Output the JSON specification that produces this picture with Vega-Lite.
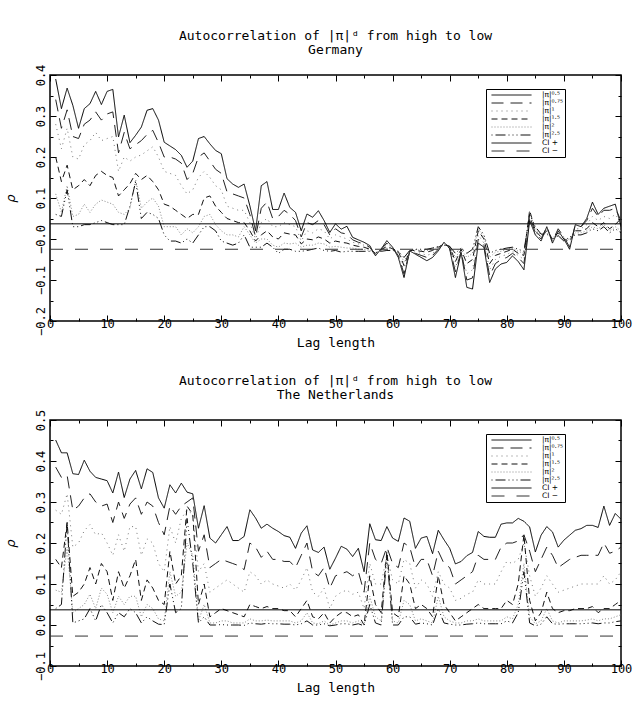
{
"$schema": "https://vega.github.io/schema/vega-lite/v6.json",
"padding": {"left": 3, "top": 29, "right": 8, "bottom": 2},
"spacing": 24,
"config": {
  "font": "DejaVu Sans Mono",
  "view": {"stroke": "black", "strokeWidth": 1.5},
  "title": {"font": "DejaVu Sans Mono", "fontSize": 13, "fontWeight": "normal", "lineHeight": 14, "offset": 7, "anchor": "middle", "color": "black"},
  "axis": {"labelFont": "DejaVu Sans Mono", "labelFontSize": 12, "labelColor": "black", "titleFont": "DejaVu Sans Mono", "titleFontSize": 13, "titleFontWeight": "normal", "titleColor": "black", "domain": false, "grid": false, "tickColor": "black", "tickWidth": 1, "labelOverlap": false, "labelFlush": false},
  "legend": {"orient": "none", "legendX": 436, "legendY": 14, "title": null, "strokeColor": "black", "fillColor": "white", "padding": 2, "clipHeight": 8, "symbolType": "stroke", "symbolSize": 1600, "symbolOffset": 3, "symbolStrokeWidth": 1, "labelFont": "DejaVu Sans", "labelFontSize": 7.5, "labelColor": "black", "rowPadding": 0, "labelOffset": 10, "labelExpr": "datum.label + '\u00a0\u00a0\u00a0'"}
},
"resolve": {"scale": {"color": "independent", "strokeDash": "independent"}, "legend": {"color": "independent", "strokeDash": "independent"}},
"datasets": {
"deci": [{"lag":0,"series":"CI +","rho":0.037},{"lag":100,"series":"CI +","rho":0.037},{"lag":0,"series":"CI −","rho":-0.025},{"lag":100,"series":"CI −","rho":-0.025}],
"nlci": [{"lag":0,"series":"CI +","rho":0.037},{"lag":100,"series":"CI +","rho":0.037},{"lag":0,"series":"CI −","rho":-0.027},{"lag":100,"series":"CI −","rho":-0.027}],
"de": [
{"lag":1,"series":"|π|⁰·⁵","rho":0.39},{"lag":2,"series":"|π|⁰·⁵","rho":0.318},{"lag":3,"series":"|π|⁰·⁵","rho":0.368},{"lag":4,"series":"|π|⁰·⁵","rho":0.326},{"lag":5,"series":"|π|⁰·⁵","rho":0.27},{"lag":6,"series":"|π|⁰·⁵","rho":0.318},{"lag":7,"series":"|π|⁰·⁵","rho":0.33},{"lag":8,"series":"|π|⁰·⁵","rho":0.36},{"lag":9,"series":"|π|⁰·⁵","rho":0.328},{"lag":10,"series":"|π|⁰·⁵","rho":0.36},
{"lag":11,"series":"|π|⁰·⁵","rho":0.365},{"lag":12,"series":"|π|⁰·⁵","rho":0.249},{"lag":13,"series":"|π|⁰·⁵","rho":0.302},{"lag":14,"series":"|π|⁰·⁵","rho":0.235},{"lag":15,"series":"|π|⁰·⁵","rho":0.253},{"lag":16,"series":"|π|⁰·⁵","rho":0.273},{"lag":17,"series":"|π|⁰·⁵","rho":0.314},{"lag":18,"series":"|π|⁰·⁵","rho":0.318},{"lag":19,"series":"|π|⁰·⁵","rho":0.29},{"lag":20,"series":"|π|⁰·⁵","rho":0.236},
{"lag":21,"series":"|π|⁰·⁵","rho":0.227},{"lag":22,"series":"|π|⁰·⁵","rho":0.218},{"lag":23,"series":"|π|⁰·⁵","rho":0.204},{"lag":24,"series":"|π|⁰·⁵","rho":0.175},{"lag":25,"series":"|π|⁰·⁵","rho":0.19},{"lag":26,"series":"|π|⁰·⁵","rho":0.245},{"lag":27,"series":"|π|⁰·⁵","rho":0.25},{"lag":28,"series":"|π|⁰·⁵","rho":0.232},{"lag":29,"series":"|π|⁰·⁵","rho":0.216},{"lag":30,"series":"|π|⁰·⁵","rho":0.208},
{"lag":31,"series":"|π|⁰·⁵","rho":0.147},{"lag":32,"series":"|π|⁰·⁵","rho":0.134},{"lag":33,"series":"|π|⁰·⁵","rho":0.126},{"lag":34,"series":"|π|⁰·⁵","rho":0.134},{"lag":35,"series":"|π|⁰·⁵","rho":0.081},{"lag":36,"series":"|π|⁰·⁵","rho":0.02},{"lag":37,"series":"|π|⁰·⁵","rho":0.13},{"lag":38,"series":"|π|⁰·⁵","rho":0.14},{"lag":39,"series":"|π|⁰·⁵","rho":0.072},{"lag":40,"series":"|π|⁰·⁵","rho":0.072},
{"lag":41,"series":"|π|⁰·⁵","rho":0.112},{"lag":42,"series":"|π|⁰·⁵","rho":0.077},{"lag":43,"series":"|π|⁰·⁵","rho":0.065},{"lag":44,"series":"|π|⁰·⁵","rho":0.02},{"lag":45,"series":"|π|⁰·⁵","rho":0.061},{"lag":46,"series":"|π|⁰·⁵","rho":0.053},{"lag":47,"series":"|π|⁰·⁵","rho":0.069},{"lag":48,"series":"|π|⁰·⁵","rho":0.045},{"lag":49,"series":"|π|⁰·⁵","rho":0.016},{"lag":50,"series":"|π|⁰·⁵","rho":0.037},
{"lag":51,"series":"|π|⁰·⁵","rho":0.024},{"lag":52,"series":"|π|⁰·⁵","rho":0.031},{"lag":53,"series":"|π|⁰·⁵","rho":0.004},{"lag":54,"series":"|π|⁰·⁵","rho":-0.002},{"lag":55,"series":"|π|⁰·⁵","rho":-0.008},{"lag":56,"series":"|π|⁰·⁵","rho":-0.016},{"lag":57,"series":"|π|⁰·⁵","rho":-0.041},{"lag":58,"series":"|π|⁰·⁵","rho":-0.024},{"lag":59,"series":"|π|⁰·⁵","rho":-0.004},{"lag":60,"series":"|π|⁰·⁵","rho":-0.02},
{"lag":61,"series":"|π|⁰·⁵","rho":-0.045},{"lag":62,"series":"|π|⁰·⁵","rho":-0.094},{"lag":63,"series":"|π|⁰·⁵","rho":-0.029},{"lag":64,"series":"|π|⁰·⁵","rho":-0.037},{"lag":65,"series":"|π|⁰·⁵","rho":-0.045},{"lag":66,"series":"|π|⁰·⁵","rho":-0.053},{"lag":67,"series":"|π|⁰·⁵","rho":-0.045},{"lag":68,"series":"|π|⁰·⁵","rho":-0.029},{"lag":69,"series":"|π|⁰·⁵","rho":-0.008},{"lag":70,"series":"|π|⁰·⁵","rho":-0.024},
{"lag":71,"series":"|π|⁰·⁵","rho":-0.094},{"lag":72,"series":"|π|⁰·⁵","rho":-0.033},{"lag":73,"series":"|π|⁰·⁵","rho":-0.118},{"lag":74,"series":"|π|⁰·⁵","rho":-0.122},{"lag":75,"series":"|π|⁰·⁵","rho":-0.01},{"lag":76,"series":"|π|⁰·⁵","rho":-0.02},{"lag":77,"series":"|π|⁰·⁵","rho":-0.106},{"lag":78,"series":"|π|⁰·⁵","rho":-0.073},{"lag":79,"series":"|π|⁰·⁵","rho":-0.061},{"lag":80,"series":"|π|⁰·⁵","rho":-0.057},
{"lag":81,"series":"|π|⁰·⁵","rho":-0.041},{"lag":82,"series":"|π|⁰·⁵","rho":-0.055},{"lag":83,"series":"|π|⁰·⁵","rho":-0.075},{"lag":84,"series":"|π|⁰·⁵","rho":0.045},{"lag":85,"series":"|π|⁰·⁵","rho":0.01},{"lag":86,"series":"|π|⁰·⁵","rho":-0.005},{"lag":87,"series":"|π|⁰·⁵","rho":0.03},{"lag":88,"series":"|π|⁰·⁵","rho":-0.01},{"lag":89,"series":"|π|⁰·⁵","rho":0.02},{"lag":90,"series":"|π|⁰·⁵","rho":0.0},
{"lag":91,"series":"|π|⁰·⁵","rho":-0.025},{"lag":92,"series":"|π|⁰·⁵","rho":0.035},{"lag":93,"series":"|π|⁰·⁵","rho":0.03},{"lag":94,"series":"|π|⁰·⁵","rho":0.05},{"lag":95,"series":"|π|⁰·⁵","rho":0.09},{"lag":96,"series":"|π|⁰·⁵","rho":0.06},{"lag":97,"series":"|π|⁰·⁵","rho":0.075},{"lag":98,"series":"|π|⁰·⁵","rho":0.08},{"lag":99,"series":"|π|⁰·⁵","rho":0.085},{"lag":100,"series":"|π|⁰·⁵","rho":0.03},
{"lag":1,"series":"|π|⁰·⁷⁵","rho":0.34},{"lag":2,"series":"|π|⁰·⁷⁵","rho":0.27},{"lag":3,"series":"|π|⁰·⁷⁵","rho":0.315},{"lag":4,"series":"|π|⁰·⁷⁵","rho":0.25},{"lag":5,"series":"|π|⁰·⁷⁵","rho":0.245},{"lag":6,"series":"|π|⁰·⁷⁵","rho":0.28},{"lag":7,"series":"|π|⁰·⁷⁵","rho":0.29},{"lag":8,"series":"|π|⁰·⁷⁵","rho":0.31},{"lag":9,"series":"|π|⁰·⁷⁵","rho":0.29},{"lag":10,"series":"|π|⁰·⁷⁵","rho":0.305},
{"lag":11,"series":"|π|⁰·⁷⁵","rho":0.31},{"lag":12,"series":"|π|⁰·⁷⁵","rho":0.21},{"lag":13,"series":"|π|⁰·⁷⁵","rho":0.26},{"lag":14,"series":"|π|⁰·⁷⁵","rho":0.22},{"lag":15,"series":"|π|⁰·⁷⁵","rho":0.23},{"lag":16,"series":"|π|⁰·⁷⁵","rho":0.24},{"lag":17,"series":"|π|⁰·⁷⁵","rho":0.255},{"lag":18,"series":"|π|⁰·⁷⁵","rho":0.265},{"lag":19,"series":"|π|⁰·⁷⁵","rho":0.235},{"lag":20,"series":"|π|⁰·⁷⁵","rho":0.2},
{"lag":21,"series":"|π|⁰·⁷⁵","rho":0.2},{"lag":22,"series":"|π|⁰·⁷⁵","rho":0.195},{"lag":23,"series":"|π|⁰·⁷⁵","rho":0.185},{"lag":24,"series":"|π|⁰·⁷⁵","rho":0.145},{"lag":25,"series":"|π|⁰·⁷⁵","rho":0.16},{"lag":26,"series":"|π|⁰·⁷⁵","rho":0.2},{"lag":27,"series":"|π|⁰·⁷⁵","rho":0.21},{"lag":28,"series":"|π|⁰·⁷⁵","rho":0.19},{"lag":29,"series":"|π|⁰·⁷⁵","rho":0.17},{"lag":30,"series":"|π|⁰·⁷⁵","rho":0.16},
{"lag":31,"series":"|π|⁰·⁷⁵","rho":0.115},{"lag":32,"series":"|π|⁰·⁷⁵","rho":0.11},{"lag":33,"series":"|π|⁰·⁷⁵","rho":0.105},{"lag":34,"series":"|π|⁰·⁷⁵","rho":0.1},{"lag":35,"series":"|π|⁰·⁷⁵","rho":0.06},{"lag":36,"series":"|π|⁰·⁷⁵","rho":0.005},{"lag":37,"series":"|π|⁰·⁷⁵","rho":0.075},{"lag":38,"series":"|π|⁰·⁷⁵","rho":0.09},{"lag":39,"series":"|π|⁰·⁷⁵","rho":0.05},{"lag":40,"series":"|π|⁰·⁷⁵","rho":0.055},
{"lag":41,"series":"|π|⁰·⁷⁵","rho":0.07},{"lag":42,"series":"|π|⁰·⁷⁵","rho":0.06},{"lag":43,"series":"|π|⁰·⁷⁵","rho":0.045},{"lag":44,"series":"|π|⁰·⁷⁵","rho":0.005},{"lag":45,"series":"|π|⁰·⁷⁵","rho":0.04},{"lag":46,"series":"|π|⁰·⁷⁵","rho":0.035},{"lag":47,"series":"|π|⁰·⁷⁵","rho":0.045},{"lag":48,"series":"|π|⁰·⁷⁵","rho":0.035},{"lag":49,"series":"|π|⁰·⁷⁵","rho":0.01},{"lag":50,"series":"|π|⁰·⁷⁵","rho":0.025},
{"lag":51,"series":"|π|⁰·⁷⁵","rho":0.015},{"lag":52,"series":"|π|⁰·⁷⁵","rho":0.012},{"lag":53,"series":"|π|⁰·⁷⁵","rho":-0.002},{"lag":54,"series":"|π|⁰·⁷⁵","rho":-0.008},{"lag":55,"series":"|π|⁰·⁷⁵","rho":-0.012},{"lag":56,"series":"|π|⁰·⁷⁵","rho":-0.02},{"lag":57,"series":"|π|⁰·⁷⁵","rho":-0.04},{"lag":58,"series":"|π|⁰·⁷⁵","rho":-0.025},{"lag":59,"series":"|π|⁰·⁷⁵","rho":-0.01},{"lag":60,"series":"|π|⁰·⁷⁵","rho":-0.022},
{"lag":61,"series":"|π|⁰·⁷⁵","rho":-0.04},{"lag":62,"series":"|π|⁰·⁷⁵","rho":-0.085},{"lag":63,"series":"|π|⁰·⁷⁵","rho":-0.03},{"lag":64,"series":"|π|⁰·⁷⁵","rho":-0.035},{"lag":65,"series":"|π|⁰·⁷⁵","rho":-0.04},{"lag":66,"series":"|π|⁰·⁷⁵","rho":-0.045},{"lag":67,"series":"|π|⁰·⁷⁵","rho":-0.04},{"lag":68,"series":"|π|⁰·⁷⁵","rho":-0.025},{"lag":69,"series":"|π|⁰·⁷⁵","rho":-0.01},{"lag":70,"series":"|π|⁰·⁷⁵","rho":-0.022},
{"lag":71,"series":"|π|⁰·⁷⁵","rho":-0.08},{"lag":72,"series":"|π|⁰·⁷⁵","rho":-0.03},{"lag":73,"series":"|π|⁰·⁷⁵","rho":-0.1},{"lag":74,"series":"|π|⁰·⁷⁵","rho":-0.095},{"lag":75,"series":"|π|⁰·⁷⁵","rho":0.0},{"lag":76,"series":"|π|⁰·⁷⁵","rho":-0.015},{"lag":77,"series":"|π|⁰·⁷⁵","rho":-0.09},{"lag":78,"series":"|π|⁰·⁷⁵","rho":-0.06},{"lag":79,"series":"|π|⁰·⁷⁵","rho":-0.05},{"lag":80,"series":"|π|⁰·⁷⁵","rho":-0.045},
{"lag":81,"series":"|π|⁰·⁷⁵","rho":-0.035},{"lag":82,"series":"|π|⁰·⁷⁵","rho":-0.045},{"lag":83,"series":"|π|⁰·⁷⁵","rho":-0.06},{"lag":84,"series":"|π|⁰·⁷⁵","rho":0.055},{"lag":85,"series":"|π|⁰·⁷⁵","rho":0.015},{"lag":86,"series":"|π|⁰·⁷⁵","rho":0.0},{"lag":87,"series":"|π|⁰·⁷⁵","rho":0.03},{"lag":88,"series":"|π|⁰·⁷⁵","rho":-0.005},{"lag":89,"series":"|π|⁰·⁷⁵","rho":0.025},{"lag":90,"series":"|π|⁰·⁷⁵","rho":0.005},
{"lag":91,"series":"|π|⁰·⁷⁵","rho":-0.02},{"lag":92,"series":"|π|⁰·⁷⁵","rho":0.035},{"lag":93,"series":"|π|⁰·⁷⁵","rho":0.03},{"lag":94,"series":"|π|⁰·⁷⁵","rho":0.045},{"lag":95,"series":"|π|⁰·⁷⁵","rho":0.075},{"lag":96,"series":"|π|⁰·⁷⁵","rho":0.055},{"lag":97,"series":"|π|⁰·⁷⁵","rho":0.07},{"lag":98,"series":"|π|⁰·⁷⁵","rho":0.07},{"lag":99,"series":"|π|⁰·⁷⁵","rho":0.075},{"lag":100,"series":"|π|⁰·⁷⁵","rho":0.045},
{"lag":1,"series":"|π|¹","rho":0.28},{"lag":2,"series":"|π|¹","rho":0.22},{"lag":3,"series":"|π|¹","rho":0.27},{"lag":4,"series":"|π|¹","rho":0.2},{"lag":5,"series":"|π|¹","rho":0.195},{"lag":6,"series":"|π|¹","rho":0.23},{"lag":7,"series":"|π|¹","rho":0.24},{"lag":8,"series":"|π|¹","rho":0.26},{"lag":9,"series":"|π|¹","rho":0.24},{"lag":10,"series":"|π|¹","rho":0.245},
{"lag":11,"series":"|π|¹","rho":0.25},{"lag":12,"series":"|π|¹","rho":0.165},{"lag":13,"series":"|π|¹","rho":0.2},{"lag":14,"series":"|π|¹","rho":0.19},{"lag":15,"series":"|π|¹","rho":0.2},{"lag":16,"series":"|π|¹","rho":0.205},{"lag":17,"series":"|π|¹","rho":0.215},{"lag":18,"series":"|π|¹","rho":0.225},{"lag":19,"series":"|π|¹","rho":0.2},{"lag":20,"series":"|π|¹","rho":0.165},
{"lag":21,"series":"|π|¹","rho":0.16},{"lag":22,"series":"|π|¹","rho":0.155},{"lag":23,"series":"|π|¹","rho":0.13},{"lag":24,"series":"|π|¹","rho":0.11},{"lag":25,"series":"|π|¹","rho":0.12},{"lag":26,"series":"|π|¹","rho":0.15},{"lag":27,"series":"|π|¹","rho":0.165},{"lag":28,"series":"|π|¹","rho":0.15},{"lag":29,"series":"|π|¹","rho":0.13},{"lag":30,"series":"|π|¹","rho":0.12},
{"lag":31,"series":"|π|¹","rho":0.08},{"lag":32,"series":"|π|¹","rho":0.075},{"lag":33,"series":"|π|¹","rho":0.07},{"lag":34,"series":"|π|¹","rho":0.07},{"lag":35,"series":"|π|¹","rho":0.04},{"lag":36,"series":"|π|¹","rho":0.0},{"lag":37,"series":"|π|¹","rho":0.04},{"lag":38,"series":"|π|¹","rho":0.05},{"lag":39,"series":"|π|¹","rho":0.03},{"lag":40,"series":"|π|¹","rho":0.03},
{"lag":41,"series":"|π|¹","rho":0.04},{"lag":42,"series":"|π|¹","rho":0.035},{"lag":43,"series":"|π|¹","rho":0.03},{"lag":44,"series":"|π|¹","rho":-0.005},{"lag":45,"series":"|π|¹","rho":0.02},{"lag":46,"series":"|π|¹","rho":0.015},{"lag":47,"series":"|π|¹","rho":0.025},{"lag":48,"series":"|π|¹","rho":0.02},{"lag":49,"series":"|π|¹","rho":0.0},{"lag":50,"series":"|π|¹","rho":0.01},
{"lag":51,"series":"|π|¹","rho":0.005},{"lag":52,"series":"|π|¹","rho":0.0},{"lag":53,"series":"|π|¹","rho":-0.008},{"lag":54,"series":"|π|¹","rho":-0.012},{"lag":55,"series":"|π|¹","rho":-0.015},{"lag":56,"series":"|π|¹","rho":-0.022},{"lag":57,"series":"|π|¹","rho":-0.038},{"lag":58,"series":"|π|¹","rho":-0.025},{"lag":59,"series":"|π|¹","rho":-0.012},{"lag":60,"series":"|π|¹","rho":-0.022},
{"lag":61,"series":"|π|¹","rho":-0.035},{"lag":62,"series":"|π|¹","rho":-0.078},{"lag":63,"series":"|π|¹","rho":-0.03},{"lag":64,"series":"|π|¹","rho":-0.032},{"lag":65,"series":"|π|¹","rho":-0.035},{"lag":66,"series":"|π|¹","rho":-0.04},{"lag":67,"series":"|π|¹","rho":-0.035},{"lag":68,"series":"|π|¹","rho":-0.022},{"lag":69,"series":"|π|¹","rho":-0.012},{"lag":70,"series":"|π|¹","rho":-0.02},
{"lag":71,"series":"|π|¹","rho":-0.07},{"lag":72,"series":"|π|¹","rho":-0.028},{"lag":73,"series":"|π|¹","rho":-0.085},{"lag":74,"series":"|π|¹","rho":-0.075},{"lag":75,"series":"|π|¹","rho":0.01},{"lag":76,"series":"|π|¹","rho":-0.01},{"lag":77,"series":"|π|¹","rho":-0.075},{"lag":78,"series":"|π|¹","rho":-0.05},{"lag":79,"series":"|π|¹","rho":-0.042},{"lag":80,"series":"|π|¹","rho":-0.038},
{"lag":81,"series":"|π|¹","rho":-0.03},{"lag":82,"series":"|π|¹","rho":-0.04},{"lag":83,"series":"|π|¹","rho":-0.05},{"lag":84,"series":"|π|¹","rho":0.06},{"lag":85,"series":"|π|¹","rho":0.015},{"lag":86,"series":"|π|¹","rho":0.005},{"lag":87,"series":"|π|¹","rho":0.025},{"lag":88,"series":"|π|¹","rho":0.0},{"lag":89,"series":"|π|¹","rho":0.02},{"lag":90,"series":"|π|¹","rho":0.005},
{"lag":91,"series":"|π|¹","rho":-0.015},{"lag":92,"series":"|π|¹","rho":0.025},{"lag":93,"series":"|π|¹","rho":0.025},{"lag":94,"series":"|π|¹","rho":0.035},{"lag":95,"series":"|π|¹","rho":0.055},{"lag":96,"series":"|π|¹","rho":0.045},{"lag":97,"series":"|π|¹","rho":0.055},{"lag":98,"series":"|π|¹","rho":0.05},{"lag":99,"series":"|π|¹","rho":0.06},{"lag":100,"series":"|π|¹","rho":0.04},
{"lag":1,"series":"|π|¹·⁵","rho":0.2},{"lag":2,"series":"|π|¹·⁵","rho":0.14},{"lag":3,"series":"|π|¹·⁵","rho":0.18},{"lag":4,"series":"|π|¹·⁵","rho":0.12},{"lag":5,"series":"|π|¹·⁵","rho":0.13},{"lag":6,"series":"|π|¹·⁵","rho":0.145},{"lag":7,"series":"|π|¹·⁵","rho":0.13},{"lag":8,"series":"|π|¹·⁵","rho":0.155},{"lag":9,"series":"|π|¹·⁵","rho":0.165},{"lag":10,"series":"|π|¹·⁵","rho":0.155},
{"lag":11,"series":"|π|¹·⁵","rho":0.15},{"lag":12,"series":"|π|¹·⁵","rho":0.105},{"lag":13,"series":"|π|¹·⁵","rho":0.12},{"lag":14,"series":"|π|¹·⁵","rho":0.135},{"lag":15,"series":"|π|¹·⁵","rho":0.16},{"lag":16,"series":"|π|¹·⁵","rho":0.145},{"lag":17,"series":"|π|¹·⁵","rho":0.155},{"lag":18,"series":"|π|¹·⁵","rho":0.14},{"lag":19,"series":"|π|¹·⁵","rho":0.12},{"lag":20,"series":"|π|¹·⁵","rho":0.085},
{"lag":21,"series":"|π|¹·⁵","rho":0.08},{"lag":22,"series":"|π|¹·⁵","rho":0.07},{"lag":23,"series":"|π|¹·⁵","rho":0.06},{"lag":24,"series":"|π|¹·⁵","rho":0.05},{"lag":25,"series":"|π|¹·⁵","rho":0.06},{"lag":26,"series":"|π|¹·⁵","rho":0.06},{"lag":27,"series":"|π|¹·⁵","rho":0.1},{"lag":28,"series":"|π|¹·⁵","rho":0.105},{"lag":29,"series":"|π|¹·⁵","rho":0.08},{"lag":30,"series":"|π|¹·⁵","rho":0.065},
{"lag":31,"series":"|π|¹·⁵","rho":0.05},{"lag":32,"series":"|π|¹·⁵","rho":0.045},{"lag":33,"series":"|π|¹·⁵","rho":0.04},{"lag":34,"series":"|π|¹·⁵","rho":0.04},{"lag":35,"series":"|π|¹·⁵","rho":0.02},{"lag":36,"series":"|π|¹·⁵","rho":-0.005},{"lag":37,"series":"|π|¹·⁵","rho":0.01},{"lag":38,"series":"|π|¹·⁵","rho":0.02},{"lag":39,"series":"|π|¹·⁵","rho":0.005},{"lag":40,"series":"|π|¹·⁵","rho":0.0},
{"lag":41,"series":"|π|¹·⁵","rho":0.015},{"lag":42,"series":"|π|¹·⁵","rho":0.012},{"lag":43,"series":"|π|¹·⁵","rho":0.01},{"lag":44,"series":"|π|¹·⁵","rho":-0.012},{"lag":45,"series":"|π|¹·⁵","rho":0.0},{"lag":46,"series":"|π|¹·⁵","rho":-0.002},{"lag":47,"series":"|π|¹·⁵","rho":0.005},{"lag":48,"series":"|π|¹·⁵","rho":0.0},{"lag":49,"series":"|π|¹·⁵","rho":-0.01},{"lag":50,"series":"|π|¹·⁵","rho":-0.005},
{"lag":51,"series":"|π|¹·⁵","rho":-0.008},{"lag":52,"series":"|π|¹·⁵","rho":-0.01},{"lag":53,"series":"|π|¹·⁵","rho":-0.015},{"lag":54,"series":"|π|¹·⁵","rho":-0.018},{"lag":55,"series":"|π|¹·⁵","rho":-0.02},{"lag":56,"series":"|π|¹·⁵","rho":-0.025},{"lag":57,"series":"|π|¹·⁵","rho":-0.035},{"lag":58,"series":"|π|¹·⁵","rho":-0.026},{"lag":59,"series":"|π|¹·⁵","rho":-0.018},{"lag":60,"series":"|π|¹·⁵","rho":-0.024},
{"lag":61,"series":"|π|¹·⁵","rho":-0.03},{"lag":62,"series":"|π|¹·⁵","rho":-0.065},{"lag":63,"series":"|π|¹·⁵","rho":-0.028},{"lag":64,"series":"|π|¹·⁵","rho":-0.028},{"lag":65,"series":"|π|¹·⁵","rho":-0.03},{"lag":66,"series":"|π|¹·⁵","rho":-0.032},{"lag":67,"series":"|π|¹·⁵","rho":-0.028},{"lag":68,"series":"|π|¹·⁵","rho":-0.02},{"lag":69,"series":"|π|¹·⁵","rho":-0.012},{"lag":70,"series":"|π|¹·⁵","rho":-0.018},
{"lag":71,"series":"|π|¹·⁵","rho":-0.055},{"lag":72,"series":"|π|¹·⁵","rho":-0.025},{"lag":73,"series":"|π|¹·⁵","rho":-0.06},{"lag":74,"series":"|π|¹·⁵","rho":-0.05},{"lag":75,"series":"|π|¹·⁵","rho":0.02},{"lag":76,"series":"|π|¹·⁵","rho":0.0},{"lag":77,"series":"|π|¹·⁵","rho":-0.06},{"lag":78,"series":"|π|¹·⁵","rho":-0.04},{"lag":79,"series":"|π|¹·⁵","rho":-0.035},{"lag":80,"series":"|π|¹·⁵","rho":-0.03},
{"lag":81,"series":"|π|¹·⁵","rho":-0.025},{"lag":82,"series":"|π|¹·⁵","rho":-0.035},{"lag":83,"series":"|π|¹·⁵","rho":-0.04},{"lag":84,"series":"|π|¹·⁵","rho":0.07},{"lag":85,"series":"|π|¹·⁵","rho":0.02},{"lag":86,"series":"|π|¹·⁵","rho":0.005},{"lag":87,"series":"|π|¹·⁵","rho":0.02},{"lag":88,"series":"|π|¹·⁵","rho":0.0},{"lag":89,"series":"|π|¹·⁵","rho":0.015},{"lag":90,"series":"|π|¹·⁵","rho":0.0},
{"lag":91,"series":"|π|¹·⁵","rho":-0.005},{"lag":92,"series":"|π|¹·⁵","rho":0.02},{"lag":93,"series":"|π|¹·⁵","rho":0.02},{"lag":94,"series":"|π|¹·⁵","rho":0.025},{"lag":95,"series":"|π|¹·⁵","rho":0.04},{"lag":96,"series":"|π|¹·⁵","rho":0.03},{"lag":97,"series":"|π|¹·⁵","rho":0.04},{"lag":98,"series":"|π|¹·⁵","rho":0.025},{"lag":99,"series":"|π|¹·⁵","rho":0.035},{"lag":100,"series":"|π|¹·⁵","rho":0.05},
{"lag":1,"series":"|π|²","rho":0.11},{"lag":2,"series":"|π|²","rho":0.065},{"lag":3,"series":"|π|²","rho":0.13},{"lag":4,"series":"|π|²","rho":0.055},{"lag":5,"series":"|π|²","rho":0.06},{"lag":6,"series":"|π|²","rho":0.085},{"lag":7,"series":"|π|²","rho":0.065},{"lag":8,"series":"|π|²","rho":0.085},{"lag":9,"series":"|π|²","rho":0.095},{"lag":10,"series":"|π|²","rho":0.09},
{"lag":11,"series":"|π|²","rho":0.085},{"lag":12,"series":"|π|²","rho":0.065},{"lag":13,"series":"|π|²","rho":0.06},{"lag":14,"series":"|π|²","rho":0.075},{"lag":15,"series":"|π|²","rho":0.145},{"lag":16,"series":"|π|²","rho":0.075},{"lag":17,"series":"|π|²","rho":0.09},{"lag":18,"series":"|π|²","rho":0.1},{"lag":19,"series":"|π|²","rho":0.08},{"lag":20,"series":"|π|²","rho":0.03},
{"lag":21,"series":"|π|²","rho":0.03},{"lag":22,"series":"|π|²","rho":0.03},{"lag":23,"series":"|π|²","rho":0.01},{"lag":24,"series":"|π|²","rho":0.025},{"lag":25,"series":"|π|²","rho":0.015},{"lag":26,"series":"|π|²","rho":0.03},{"lag":27,"series":"|π|²","rho":0.055},{"lag":28,"series":"|π|²","rho":0.06},{"lag":29,"series":"|π|²","rho":0.035},{"lag":30,"series":"|π|²","rho":0.02},
{"lag":31,"series":"|π|²","rho":0.01},{"lag":32,"series":"|π|²","rho":0.01},{"lag":33,"series":"|π|²","rho":0.005},{"lag":34,"series":"|π|²","rho":0.03},{"lag":35,"series":"|π|²","rho":0.01},{"lag":36,"series":"|π|²","rho":-0.01},{"lag":37,"series":"|π|²","rho":0.0},{"lag":38,"series":"|π|²","rho":0.0},{"lag":39,"series":"|π|²","rho":-0.015},{"lag":40,"series":"|π|²","rho":-0.02},
{"lag":41,"series":"|π|²","rho":-0.01},{"lag":42,"series":"|π|²","rho":-0.012},{"lag":43,"series":"|π|²","rho":-0.01},{"lag":44,"series":"|π|²","rho":-0.02},{"lag":45,"series":"|π|²","rho":-0.015},{"lag":46,"series":"|π|²","rho":-0.015},{"lag":47,"series":"|π|²","rho":-0.01},{"lag":48,"series":"|π|²","rho":-0.012},{"lag":49,"series":"|π|²","rho":-0.02},{"lag":50,"series":"|π|²","rho":-0.018},
{"lag":51,"series":"|π|²","rho":-0.02},{"lag":52,"series":"|π|²","rho":-0.022},{"lag":53,"series":"|π|²","rho":-0.022},{"lag":54,"series":"|π|²","rho":-0.025},{"lag":55,"series":"|π|²","rho":-0.025},{"lag":56,"series":"|π|²","rho":-0.028},{"lag":57,"series":"|π|²","rho":-0.035},{"lag":58,"series":"|π|²","rho":-0.028},{"lag":59,"series":"|π|²","rho":-0.022},{"lag":60,"series":"|π|²","rho":-0.026},
{"lag":61,"series":"|π|²","rho":-0.03},{"lag":62,"series":"|π|²","rho":-0.055},{"lag":63,"series":"|π|²","rho":-0.028},{"lag":64,"series":"|π|²","rho":-0.026},{"lag":65,"series":"|π|²","rho":-0.028},{"lag":66,"series":"|π|²","rho":-0.028},{"lag":67,"series":"|π|²","rho":-0.025},{"lag":68,"series":"|π|²","rho":-0.02},{"lag":69,"series":"|π|²","rho":-0.015},{"lag":70,"series":"|π|²","rho":-0.02},
{"lag":71,"series":"|π|²","rho":-0.045},{"lag":72,"series":"|π|²","rho":-0.025},{"lag":73,"series":"|π|²","rho":-0.045},{"lag":74,"series":"|π|²","rho":-0.035},{"lag":75,"series":"|π|²","rho":0.025},{"lag":76,"series":"|π|²","rho":0.005},{"lag":77,"series":"|π|²","rho":-0.045},{"lag":78,"series":"|π|²","rho":-0.032},{"lag":79,"series":"|π|²","rho":-0.03},{"lag":80,"series":"|π|²","rho":-0.025},
{"lag":81,"series":"|π|²","rho":-0.022},{"lag":82,"series":"|π|²","rho":-0.03},{"lag":83,"series":"|π|²","rho":-0.035},{"lag":84,"series":"|π|²","rho":0.065},{"lag":85,"series":"|π|²","rho":0.025},{"lag":86,"series":"|π|²","rho":0.01},{"lag":87,"series":"|π|²","rho":0.015},{"lag":88,"series":"|π|²","rho":0.0},{"lag":89,"series":"|π|²","rho":0.01},{"lag":90,"series":"|π|²","rho":-0.002},
{"lag":91,"series":"|π|²","rho":0.0},{"lag":92,"series":"|π|²","rho":0.015},{"lag":93,"series":"|π|²","rho":0.015},{"lag":94,"series":"|π|²","rho":0.02},{"lag":95,"series":"|π|²","rho":0.03},{"lag":96,"series":"|π|²","rho":0.025},{"lag":97,"series":"|π|²","rho":0.035},{"lag":98,"series":"|π|²","rho":0.02},{"lag":99,"series":"|π|²","rho":0.03},{"lag":100,"series":"|π|²","rho":0.02},
{"lag":1,"series":"|π|²·⁵","rho":0.06},{"lag":2,"series":"|π|²·⁵","rho":0.055},{"lag":3,"series":"|π|²·⁵","rho":0.12},{"lag":4,"series":"|π|²·⁵","rho":0.03},{"lag":5,"series":"|π|²·⁵","rho":0.03},{"lag":6,"series":"|π|²·⁵","rho":0.035},{"lag":7,"series":"|π|²·⁵","rho":0.035},{"lag":8,"series":"|π|²·⁵","rho":0.04},{"lag":9,"series":"|π|²·⁵","rho":0.045},{"lag":10,"series":"|π|²·⁵","rho":0.04},
{"lag":11,"series":"|π|²·⁵","rho":0.035},{"lag":12,"series":"|π|²·⁵","rho":0.035},{"lag":13,"series":"|π|²·⁵","rho":0.035},{"lag":14,"series":"|π|²·⁵","rho":0.08},{"lag":15,"series":"|π|²·⁵","rho":0.14},{"lag":16,"series":"|π|²·⁵","rho":0.05},{"lag":17,"series":"|π|²·⁵","rho":0.065},{"lag":18,"series":"|π|²·⁵","rho":0.06},{"lag":19,"series":"|π|²·⁵","rho":0.05},{"lag":20,"series":"|π|²·⁵","rho":0.01},
{"lag":21,"series":"|π|²·⁵","rho":-0.005},{"lag":22,"series":"|π|²·⁵","rho":-0.005},{"lag":23,"series":"|π|²·⁵","rho":-0.01},{"lag":24,"series":"|π|²·⁵","rho":0.0},{"lag":25,"series":"|π|²·⁵","rho":-0.01},{"lag":26,"series":"|π|²·⁵","rho":0.01},{"lag":27,"series":"|π|²·⁵","rho":0.03},{"lag":28,"series":"|π|²·⁵","rho":0.03},{"lag":29,"series":"|π|²·⁵","rho":0.02},{"lag":30,"series":"|π|²·⁵","rho":-0.005},
{"lag":31,"series":"|π|²·⁵","rho":-0.01},{"lag":32,"series":"|π|²·⁵","rho":-0.015},{"lag":33,"series":"|π|²·⁵","rho":-0.01},{"lag":34,"series":"|π|²·⁵","rho":0.01},{"lag":35,"series":"|π|²·⁵","rho":-0.02},{"lag":36,"series":"|π|²·⁵","rho":-0.02},{"lag":37,"series":"|π|²·⁵","rho":-0.02},{"lag":38,"series":"|π|²·⁵","rho":-0.01},{"lag":39,"series":"|π|²·⁵","rho":-0.02},{"lag":40,"series":"|π|²·⁵","rho":-0.035},
{"lag":41,"series":"|π|²·⁵","rho":-0.025},{"lag":42,"series":"|π|²·⁵","rho":-0.025},{"lag":43,"series":"|π|²·⁵","rho":-0.03},{"lag":44,"series":"|π|²·⁵","rho":-0.03},{"lag":45,"series":"|π|²·⁵","rho":-0.028},{"lag":46,"series":"|π|²·⁵","rho":-0.025},{"lag":47,"series":"|π|²·⁵","rho":-0.022},{"lag":48,"series":"|π|²·⁵","rho":-0.028},{"lag":49,"series":"|π|²·⁵","rho":-0.03},{"lag":50,"series":"|π|²·⁵","rho":-0.028},
{"lag":51,"series":"|π|²·⁵","rho":-0.032},{"lag":52,"series":"|π|²·⁵","rho":-0.03},{"lag":53,"series":"|π|²·⁵","rho":-0.03},{"lag":54,"series":"|π|²·⁵","rho":-0.03},{"lag":55,"series":"|π|²·⁵","rho":-0.03},{"lag":56,"series":"|π|²·⁵","rho":-0.03},{"lag":57,"series":"|π|²·⁵","rho":-0.033},{"lag":58,"series":"|π|²·⁵","rho":-0.03},{"lag":59,"series":"|π|²·⁵","rho":-0.028},{"lag":60,"series":"|π|²·⁵","rho":-0.028},
{"lag":61,"series":"|π|²·⁵","rho":-0.03},{"lag":62,"series":"|π|²·⁵","rho":-0.045},{"lag":63,"series":"|π|²·⁵","rho":-0.028},{"lag":64,"series":"|π|²·⁵","rho":-0.025},{"lag":65,"series":"|π|²·⁵","rho":-0.025},{"lag":66,"series":"|π|²·⁵","rho":-0.025},{"lag":67,"series":"|π|²·⁵","rho":-0.022},{"lag":68,"series":"|π|²·⁵","rho":-0.018},{"lag":69,"series":"|π|²·⁵","rho":-0.015},{"lag":70,"series":"|π|²·⁵","rho":-0.018},
{"lag":71,"series":"|π|²·⁵","rho":-0.035},{"lag":72,"series":"|π|²·⁵","rho":-0.022},{"lag":73,"series":"|π|²·⁵","rho":-0.035},{"lag":74,"series":"|π|²·⁵","rho":-0.025},{"lag":75,"series":"|π|²·⁵","rho":0.03},{"lag":76,"series":"|π|²·⁵","rho":0.01},{"lag":77,"series":"|π|²·⁵","rho":-0.035},{"lag":78,"series":"|π|²·⁵","rho":-0.028},{"lag":79,"series":"|π|²·⁵","rho":-0.025},{"lag":80,"series":"|π|²·⁵","rho":-0.022},
{"lag":81,"series":"|π|²·⁵","rho":-0.02},{"lag":82,"series":"|π|²·⁵","rho":-0.025},{"lag":83,"series":"|π|²·⁵","rho":-0.03},{"lag":84,"series":"|π|²·⁵","rho":0.06},{"lag":85,"series":"|π|²·⁵","rho":0.03},{"lag":86,"series":"|π|²·⁵","rho":0.012},{"lag":87,"series":"|π|²·⁵","rho":0.012},{"lag":88,"series":"|π|²·⁵","rho":0.0},{"lag":89,"series":"|π|²·⁵","rho":0.008},{"lag":90,"series":"|π|²·⁵","rho":-0.005},
{"lag":91,"series":"|π|²·⁵","rho":0.005},{"lag":92,"series":"|π|²·⁵","rho":0.01},{"lag":93,"series":"|π|²·⁵","rho":0.01},{"lag":94,"series":"|π|²·⁵","rho":0.015},{"lag":95,"series":"|π|²·⁵","rho":0.025},{"lag":96,"series":"|π|²·⁵","rho":0.02},{"lag":97,"series":"|π|²·⁵","rho":0.03},{"lag":98,"series":"|π|²·⁵","rho":0.015},{"lag":99,"series":"|π|²·⁵","rho":0.025},{"lag":100,"series":"|π|²·⁵","rho":0.015}
],
"nl": [
{"lag":1,"series":"|π|⁰·⁵","rho":0.451},{"lag":2,"series":"|π|⁰·⁵","rho":0.42},{"lag":3,"series":"|π|⁰·⁵","rho":0.42},{"lag":4,"series":"|π|⁰·⁵","rho":0.369},{"lag":5,"series":"|π|⁰·⁵","rho":0.367},{"lag":6,"series":"|π|⁰·⁵","rho":0.402},{"lag":7,"series":"|π|⁰·⁵","rho":0.375},{"lag":8,"series":"|π|⁰·⁵","rho":0.36},{"lag":9,"series":"|π|⁰·⁵","rho":0.356},{"lag":10,"series":"|π|⁰·⁵","rho":0.352},
{"lag":11,"series":"|π|⁰·⁵","rho":0.322},{"lag":12,"series":"|π|⁰·⁵","rho":0.373},{"lag":13,"series":"|π|⁰·⁵","rho":0.311},{"lag":14,"series":"|π|⁰·⁵","rho":0.356},{"lag":15,"series":"|π|⁰·⁵","rho":0.377},{"lag":16,"series":"|π|⁰·⁵","rho":0.332},{"lag":17,"series":"|π|⁰·⁵","rho":0.381},{"lag":18,"series":"|π|⁰·⁵","rho":0.372},{"lag":19,"series":"|π|⁰·⁵","rho":0.31},{"lag":20,"series":"|π|⁰·⁵","rho":0.285},
{"lag":21,"series":"|π|⁰·⁵","rho":0.342},{"lag":22,"series":"|π|⁰·⁵","rho":0.322},{"lag":23,"series":"|π|⁰·⁵","rho":0.346},{"lag":24,"series":"|π|⁰·⁵","rho":0.324},{"lag":25,"series":"|π|⁰·⁵","rho":0.32},{"lag":26,"series":"|π|⁰·⁵","rho":0.236},{"lag":27,"series":"|π|⁰·⁵","rho":0.291},{"lag":28,"series":"|π|⁰·⁵","rho":0.212},{"lag":29,"series":"|π|⁰·⁵","rho":0.2},{"lag":30,"series":"|π|⁰·⁵","rho":0.22},
{"lag":31,"series":"|π|⁰·⁵","rho":0.24},{"lag":32,"series":"|π|⁰·⁵","rho":0.206},{"lag":33,"series":"|π|⁰·⁵","rho":0.206},{"lag":34,"series":"|π|⁰·⁵","rho":0.216},{"lag":35,"series":"|π|⁰·⁵","rho":0.281},{"lag":36,"series":"|π|⁰·⁵","rho":0.261},{"lag":37,"series":"|π|⁰·⁵","rho":0.236},{"lag":38,"series":"|π|⁰·⁵","rho":0.246},{"lag":39,"series":"|π|⁰·⁵","rho":0.236},{"lag":40,"series":"|π|⁰·⁵","rho":0.228},
{"lag":41,"series":"|π|⁰·⁵","rho":0.218},{"lag":42,"series":"|π|⁰·⁵","rho":0.214},{"lag":43,"series":"|π|⁰·⁵","rho":0.187},{"lag":44,"series":"|π|⁰·⁵","rho":0.224},{"lag":45,"series":"|π|⁰·⁵","rho":0.242},{"lag":46,"series":"|π|⁰·⁵","rho":0.183},{"lag":47,"series":"|π|⁰·⁵","rho":0.177},{"lag":48,"series":"|π|⁰·⁵","rho":0.19},{"lag":49,"series":"|π|⁰·⁵","rho":0.136},{"lag":50,"series":"|π|⁰·⁵","rho":0.163},
{"lag":51,"series":"|π|⁰·⁵","rho":0.192},{"lag":52,"series":"|π|⁰·⁵","rho":0.185},{"lag":53,"series":"|π|⁰·⁵","rho":0.167},{"lag":54,"series":"|π|⁰·⁵","rho":0.187},{"lag":55,"series":"|π|⁰·⁵","rho":0.13},{"lag":56,"series":"|π|⁰·⁵","rho":0.247},{"lag":57,"series":"|π|⁰·⁵","rho":0.208},{"lag":58,"series":"|π|⁰·⁵","rho":0.206},{"lag":59,"series":"|π|⁰·⁵","rho":0.24},{"lag":60,"series":"|π|⁰·⁵","rho":0.212},
{"lag":61,"series":"|π|⁰·⁵","rho":0.204},{"lag":62,"series":"|π|⁰·⁵","rho":0.261},{"lag":63,"series":"|π|⁰·⁵","rho":0.253},{"lag":64,"series":"|π|⁰·⁵","rho":0.187},{"lag":65,"series":"|π|⁰·⁵","rho":0.212},{"lag":66,"series":"|π|⁰·⁵","rho":0.216},{"lag":67,"series":"|π|⁰·⁵","rho":0.174},{"lag":68,"series":"|π|⁰·⁵","rho":0.231},{"lag":69,"series":"|π|⁰·⁵","rho":0.208},{"lag":70,"series":"|π|⁰·⁵","rho":0.187},
{"lag":71,"series":"|π|⁰·⁵","rho":0.149},{"lag":72,"series":"|π|⁰·⁵","rho":0.155},{"lag":73,"series":"|π|⁰·⁵","rho":0.169},{"lag":74,"series":"|π|⁰·⁵","rho":0.177},{"lag":75,"series":"|π|⁰·⁵","rho":0.228},{"lag":76,"series":"|π|⁰·⁵","rho":0.216},{"lag":77,"series":"|π|⁰·⁵","rho":0.214},{"lag":78,"series":"|π|⁰·⁵","rho":0.214},{"lag":79,"series":"|π|⁰·⁵","rho":0.246},{"lag":80,"series":"|π|⁰·⁵","rho":0.249},
{"lag":81,"series":"|π|⁰·⁵","rho":0.249},{"lag":82,"series":"|π|⁰·⁵","rho":0.26},{"lag":83,"series":"|π|⁰·⁵","rho":0.253},{"lag":84,"series":"|π|⁰·⁵","rho":0.239},{"lag":85,"series":"|π|⁰·⁵","rho":0.178},{"lag":86,"series":"|π|⁰·⁵","rho":0.219},{"lag":87,"series":"|π|⁰·⁵","rho":0.24},{"lag":88,"series":"|π|⁰·⁵","rho":0.227},{"lag":89,"series":"|π|⁰·⁵","rho":0.19},{"lag":90,"series":"|π|⁰·⁵","rho":0.207},
{"lag":91,"series":"|π|⁰·⁵","rho":0.219},{"lag":92,"series":"|π|⁰·⁵","rho":0.231},{"lag":93,"series":"|π|⁰·⁵","rho":0.235},{"lag":94,"series":"|π|⁰·⁵","rho":0.243},{"lag":95,"series":"|π|⁰·⁵","rho":0.243},{"lag":96,"series":"|π|⁰·⁵","rho":0.238},{"lag":97,"series":"|π|⁰·⁵","rho":0.29},{"lag":98,"series":"|π|⁰·⁵","rho":0.243},{"lag":99,"series":"|π|⁰·⁵","rho":0.272},{"lag":100,"series":"|π|⁰·⁵","rho":0.258},
{"lag":1,"series":"|π|⁰·⁷⁵","rho":0.385},{"lag":2,"series":"|π|⁰·⁷⁵","rho":0.36},{"lag":3,"series":"|π|⁰·⁷⁵","rho":0.365},{"lag":4,"series":"|π|⁰·⁷⁵","rho":0.28},{"lag":5,"series":"|π|⁰·⁷⁵","rho":0.29},{"lag":6,"series":"|π|⁰·⁷⁵","rho":0.31},{"lag":7,"series":"|π|⁰·⁷⁵","rho":0.32},{"lag":8,"series":"|π|⁰·⁷⁵","rho":0.3},{"lag":9,"series":"|π|⁰·⁷⁵","rho":0.29},{"lag":10,"series":"|π|⁰·⁷⁵","rho":0.295},
{"lag":11,"series":"|π|⁰·⁷⁵","rho":0.25},{"lag":12,"series":"|π|⁰·⁷⁵","rho":0.3},{"lag":13,"series":"|π|⁰·⁷⁵","rho":0.26},{"lag":14,"series":"|π|⁰·⁷⁵","rho":0.295},{"lag":15,"series":"|π|⁰·⁷⁵","rho":0.31},{"lag":16,"series":"|π|⁰·⁷⁵","rho":0.27},{"lag":17,"series":"|π|⁰·⁷⁵","rho":0.3},{"lag":18,"series":"|π|⁰·⁷⁵","rho":0.29},{"lag":19,"series":"|π|⁰·⁷⁵","rho":0.25},{"lag":20,"series":"|π|⁰·⁷⁵","rho":0.22},
{"lag":21,"series":"|π|⁰·⁷⁵","rho":0.29},{"lag":22,"series":"|π|⁰·⁷⁵","rho":0.27},{"lag":23,"series":"|π|⁰·⁷⁵","rho":0.29},{"lag":24,"series":"|π|⁰·⁷⁵","rho":0.3},{"lag":25,"series":"|π|⁰·⁷⁵","rho":0.31},{"lag":26,"series":"|π|⁰·⁷⁵","rho":0.18},{"lag":27,"series":"|π|⁰·⁷⁵","rho":0.22},{"lag":28,"series":"|π|⁰·⁷⁵","rho":0.14},{"lag":29,"series":"|π|⁰·⁷⁵","rho":0.15},{"lag":30,"series":"|π|⁰·⁷⁵","rho":0.16},
{"lag":31,"series":"|π|⁰·⁷⁵","rho":0.155},{"lag":32,"series":"|π|⁰·⁷⁵","rho":0.15},{"lag":33,"series":"|π|⁰·⁷⁵","rho":0.145},{"lag":34,"series":"|π|⁰·⁷⁵","rho":0.135},{"lag":35,"series":"|π|⁰·⁷⁵","rho":0.2},{"lag":36,"series":"|π|⁰·⁷⁵","rho":0.19},{"lag":37,"series":"|π|⁰·⁷⁵","rho":0.165},{"lag":38,"series":"|π|⁰·⁷⁵","rho":0.18},{"lag":39,"series":"|π|⁰·⁷⁵","rho":0.16},{"lag":40,"series":"|π|⁰·⁷⁵","rho":0.16},
{"lag":41,"series":"|π|⁰·⁷⁵","rho":0.155},{"lag":42,"series":"|π|⁰·⁷⁵","rho":0.155},{"lag":43,"series":"|π|⁰·⁷⁵","rho":0.14},{"lag":44,"series":"|π|⁰·⁷⁵","rho":0.17},{"lag":45,"series":"|π|⁰·⁷⁵","rho":0.2},{"lag":46,"series":"|π|⁰·⁷⁵","rho":0.13},{"lag":47,"series":"|π|⁰·⁷⁵","rho":0.12},{"lag":48,"series":"|π|⁰·⁷⁵","rho":0.14},{"lag":49,"series":"|π|⁰·⁷⁵","rho":0.09},{"lag":50,"series":"|π|⁰·⁷⁵","rho":0.12},
{"lag":51,"series":"|π|⁰·⁷⁵","rho":0.125},{"lag":52,"series":"|π|⁰·⁷⁵","rho":0.13},{"lag":53,"series":"|π|⁰·⁷⁵","rho":0.12},{"lag":54,"series":"|π|⁰·⁷⁵","rho":0.13},{"lag":55,"series":"|π|⁰·⁷⁵","rho":0.08},{"lag":56,"series":"|π|⁰·⁷⁵","rho":0.2},{"lag":57,"series":"|π|⁰·⁷⁵","rho":0.16},{"lag":58,"series":"|π|⁰·⁷⁵","rho":0.15},{"lag":59,"series":"|π|⁰·⁷⁵","rho":0.19},{"lag":60,"series":"|π|⁰·⁷⁵","rho":0.15},
{"lag":61,"series":"|π|⁰·⁷⁵","rho":0.14},{"lag":62,"series":"|π|⁰·⁷⁵","rho":0.2},{"lag":63,"series":"|π|⁰·⁷⁵","rho":0.19},{"lag":64,"series":"|π|⁰·⁷⁵","rho":0.14},{"lag":65,"series":"|π|⁰·⁷⁵","rho":0.16},{"lag":66,"series":"|π|⁰·⁷⁵","rho":0.16},{"lag":67,"series":"|π|⁰·⁷⁵","rho":0.12},{"lag":68,"series":"|π|⁰·⁷⁵","rho":0.18},{"lag":69,"series":"|π|⁰·⁷⁵","rho":0.15},{"lag":70,"series":"|π|⁰·⁷⁵","rho":0.14},
{"lag":71,"series":"|π|⁰·⁷⁵","rho":0.1},{"lag":72,"series":"|π|⁰·⁷⁵","rho":0.11},{"lag":73,"series":"|π|⁰·⁷⁵","rho":0.12},{"lag":74,"series":"|π|⁰·⁷⁵","rho":0.13},{"lag":75,"series":"|π|⁰·⁷⁵","rho":0.17},{"lag":76,"series":"|π|⁰·⁷⁵","rho":0.16},{"lag":77,"series":"|π|⁰·⁷⁵","rho":0.16},{"lag":78,"series":"|π|⁰·⁷⁵","rho":0.16},{"lag":79,"series":"|π|⁰·⁷⁵","rho":0.19},{"lag":80,"series":"|π|⁰·⁷⁵","rho":0.2},
{"lag":81,"series":"|π|⁰·⁷⁵","rho":0.2},{"lag":82,"series":"|π|⁰·⁷⁵","rho":0.205},{"lag":83,"series":"|π|⁰·⁷⁵","rho":0.22},{"lag":84,"series":"|π|⁰·⁷⁵","rho":0.18},{"lag":85,"series":"|π|⁰·⁷⁵","rho":0.13},{"lag":86,"series":"|π|⁰·⁷⁵","rho":0.16},{"lag":87,"series":"|π|⁰·⁷⁵","rho":0.19},{"lag":88,"series":"|π|⁰·⁷⁵","rho":0.17},{"lag":89,"series":"|π|⁰·⁷⁵","rho":0.14},{"lag":90,"series":"|π|⁰·⁷⁵","rho":0.15},
{"lag":91,"series":"|π|⁰·⁷⁵","rho":0.16},{"lag":92,"series":"|π|⁰·⁷⁵","rho":0.165},{"lag":93,"series":"|π|⁰·⁷⁵","rho":0.17},{"lag":94,"series":"|π|⁰·⁷⁵","rho":0.17},{"lag":95,"series":"|π|⁰·⁷⁵","rho":0.17},{"lag":96,"series":"|π|⁰·⁷⁵","rho":0.17},{"lag":97,"series":"|π|⁰·⁷⁵","rho":0.2},{"lag":98,"series":"|π|⁰·⁷⁵","rho":0.175},{"lag":99,"series":"|π|⁰·⁷⁵","rho":0.18},{"lag":100,"series":"|π|⁰·⁷⁵","rho":0.19},
{"lag":1,"series":"|π|¹","rho":0.28},{"lag":2,"series":"|π|¹","rho":0.27},{"lag":3,"series":"|π|¹","rho":0.32},{"lag":4,"series":"|π|¹","rho":0.19},{"lag":5,"series":"|π|¹","rho":0.2},{"lag":6,"series":"|π|¹","rho":0.23},{"lag":7,"series":"|π|¹","rho":0.245},{"lag":8,"series":"|π|¹","rho":0.22},{"lag":9,"series":"|π|¹","rho":0.225},{"lag":10,"series":"|π|¹","rho":0.2},
{"lag":11,"series":"|π|¹","rho":0.17},{"lag":12,"series":"|π|¹","rho":0.22},{"lag":13,"series":"|π|¹","rho":0.18},{"lag":14,"series":"|π|¹","rho":0.24},{"lag":15,"series":"|π|¹","rho":0.24},{"lag":16,"series":"|π|¹","rho":0.17},{"lag":17,"series":"|π|¹","rho":0.21},{"lag":18,"series":"|π|¹","rho":0.2},{"lag":19,"series":"|π|¹","rho":0.15},{"lag":20,"series":"|π|¹","rho":0.13},
{"lag":21,"series":"|π|¹","rho":0.24},{"lag":22,"series":"|π|¹","rho":0.2},{"lag":23,"series":"|π|¹","rho":0.26},{"lag":24,"series":"|π|¹","rho":0.28},{"lag":25,"series":"|π|¹","rho":0.27},{"lag":26,"series":"|π|¹","rho":0.13},{"lag":27,"series":"|π|¹","rho":0.15},{"lag":28,"series":"|π|¹","rho":0.08},{"lag":29,"series":"|π|¹","rho":0.09},{"lag":30,"series":"|π|¹","rho":0.1},
{"lag":31,"series":"|π|¹","rho":0.11},{"lag":32,"series":"|π|¹","rho":0.1},{"lag":33,"series":"|π|¹","rho":0.09},{"lag":34,"series":"|π|¹","rho":0.08},{"lag":35,"series":"|π|¹","rho":0.13},{"lag":36,"series":"|π|¹","rho":0.12},{"lag":37,"series":"|π|¹","rho":0.1},{"lag":38,"series":"|π|¹","rho":0.11},{"lag":39,"series":"|π|¹","rho":0.1},{"lag":40,"series":"|π|¹","rho":0.095},
{"lag":41,"series":"|π|¹","rho":0.09},{"lag":42,"series":"|π|¹","rho":0.1},{"lag":43,"series":"|π|¹","rho":0.085},{"lag":44,"series":"|π|¹","rho":0.11},{"lag":45,"series":"|π|¹","rho":0.14},{"lag":46,"series":"|π|¹","rho":0.08},{"lag":47,"series":"|π|¹","rho":0.07},{"lag":48,"series":"|π|¹","rho":0.09},{"lag":49,"series":"|π|¹","rho":0.04},{"lag":50,"series":"|π|¹","rho":0.07},
{"lag":51,"series":"|π|¹","rho":0.08},{"lag":52,"series":"|π|¹","rho":0.085},{"lag":53,"series":"|π|¹","rho":0.075},{"lag":54,"series":"|π|¹","rho":0.08},{"lag":55,"series":"|π|¹","rho":0.04},{"lag":56,"series":"|π|¹","rho":0.15},{"lag":57,"series":"|π|¹","rho":0.1},{"lag":58,"series":"|π|¹","rho":0.1},{"lag":59,"series":"|π|¹","rho":0.17},{"lag":60,"series":"|π|¹","rho":0.11},
{"lag":61,"series":"|π|¹","rho":0.1},{"lag":62,"series":"|π|¹","rho":0.16},{"lag":63,"series":"|π|¹","rho":0.15},{"lag":64,"series":"|π|¹","rho":0.09},{"lag":65,"series":"|π|¹","rho":0.11},{"lag":66,"series":"|π|¹","rho":0.1},{"lag":67,"series":"|π|¹","rho":0.07},{"lag":68,"series":"|π|¹","rho":0.13},{"lag":69,"series":"|π|¹","rho":0.1},{"lag":70,"series":"|π|¹","rho":0.09},
{"lag":71,"series":"|π|¹","rho":0.06},{"lag":72,"series":"|π|¹","rho":0.065},{"lag":73,"series":"|π|¹","rho":0.075},{"lag":74,"series":"|π|¹","rho":0.08},{"lag":75,"series":"|π|¹","rho":0.11},{"lag":76,"series":"|π|¹","rho":0.1},{"lag":77,"series":"|π|¹","rho":0.1},{"lag":78,"series":"|π|¹","rho":0.1},{"lag":79,"series":"|π|¹","rho":0.13},{"lag":80,"series":"|π|¹","rho":0.155},
{"lag":81,"series":"|π|¹","rho":0.15},{"lag":82,"series":"|π|¹","rho":0.16},{"lag":83,"series":"|π|¹","rho":0.2},{"lag":84,"series":"|π|¹","rho":0.12},{"lag":85,"series":"|π|¹","rho":0.07},{"lag":86,"series":"|π|¹","rho":0.09},{"lag":87,"series":"|π|¹","rho":0.12},{"lag":88,"series":"|π|¹","rho":0.1},{"lag":89,"series":"|π|¹","rho":0.08},{"lag":90,"series":"|π|¹","rho":0.085},
{"lag":91,"series":"|π|¹","rho":0.09},{"lag":92,"series":"|π|¹","rho":0.095},{"lag":93,"series":"|π|¹","rho":0.1},{"lag":94,"series":"|π|¹","rho":0.1},{"lag":95,"series":"|π|¹","rho":0.1},{"lag":96,"series":"|π|¹","rho":0.1},{"lag":97,"series":"|π|¹","rho":0.12},{"lag":98,"series":"|π|¹","rho":0.1},{"lag":99,"series":"|π|¹","rho":0.11},{"lag":100,"series":"|π|¹","rho":0.13},
{"lag":1,"series":"|π|¹·⁵","rho":0.16},{"lag":2,"series":"|π|¹·⁵","rho":0.14},{"lag":3,"series":"|π|¹·⁵","rho":0.25},{"lag":4,"series":"|π|¹·⁵","rho":0.07},{"lag":5,"series":"|π|¹·⁵","rho":0.08},{"lag":6,"series":"|π|¹·⁵","rho":0.1},{"lag":7,"series":"|π|¹·⁵","rho":0.14},{"lag":8,"series":"|π|¹·⁵","rho":0.1},{"lag":9,"series":"|π|¹·⁵","rho":0.15},{"lag":10,"series":"|π|¹·⁵","rho":0.13},
{"lag":11,"series":"|π|¹·⁵","rho":0.06},{"lag":12,"series":"|π|¹·⁵","rho":0.13},{"lag":13,"series":"|π|¹·⁵","rho":0.09},{"lag":14,"series":"|π|¹·⁵","rho":0.12},{"lag":15,"series":"|π|¹·⁵","rho":0.16},{"lag":16,"series":"|π|¹·⁵","rho":0.06},{"lag":17,"series":"|π|¹·⁵","rho":0.11},{"lag":18,"series":"|π|¹·⁵","rho":0.09},{"lag":19,"series":"|π|¹·⁵","rho":0.06},{"lag":20,"series":"|π|¹·⁵","rho":0.05},
{"lag":21,"series":"|π|¹·⁵","rho":0.18},{"lag":22,"series":"|π|¹·⁵","rho":0.1},{"lag":23,"series":"|π|¹·⁵","rho":0.12},{"lag":24,"series":"|π|¹·⁵","rho":0.29},{"lag":25,"series":"|π|¹·⁵","rho":0.27},{"lag":26,"series":"|π|¹·⁵","rho":0.05},{"lag":27,"series":"|π|¹·⁵","rho":0.1},{"lag":28,"series":"|π|¹·⁵","rho":0.02},{"lag":29,"series":"|π|¹·⁵","rho":0.03},{"lag":30,"series":"|π|¹·⁵","rho":0.04},
{"lag":31,"series":"|π|¹·⁵","rho":0.035},{"lag":32,"series":"|π|¹·⁵","rho":0.03},{"lag":33,"series":"|π|¹·⁵","rho":0.025},{"lag":34,"series":"|π|¹·⁵","rho":0.02},{"lag":35,"series":"|π|¹·⁵","rho":0.05},{"lag":36,"series":"|π|¹·⁵","rho":0.045},{"lag":37,"series":"|π|¹·⁵","rho":0.04},{"lag":38,"series":"|π|¹·⁵","rho":0.045},{"lag":39,"series":"|π|¹·⁵","rho":0.04},{"lag":40,"series":"|π|¹·⁵","rho":0.04},
{"lag":41,"series":"|π|¹·⁵","rho":0.035},{"lag":42,"series":"|π|¹·⁵","rho":0.035},{"lag":43,"series":"|π|¹·⁵","rho":0.02},{"lag":44,"series":"|π|¹·⁵","rho":0.04},{"lag":45,"series":"|π|¹·⁵","rho":0.06},{"lag":46,"series":"|π|¹·⁵","rho":0.02},{"lag":47,"series":"|π|¹·⁵","rho":0.015},{"lag":48,"series":"|π|¹·⁵","rho":0.03},{"lag":49,"series":"|π|¹·⁵","rho":0.005},{"lag":50,"series":"|π|¹·⁵","rho":0.02},
{"lag":51,"series":"|π|¹·⁵","rho":0.03},{"lag":52,"series":"|π|¹·⁵","rho":0.03},{"lag":53,"series":"|π|¹·⁵","rho":0.02},{"lag":54,"series":"|π|¹·⁵","rho":0.025},{"lag":55,"series":"|π|¹·⁵","rho":0.0},{"lag":56,"series":"|π|¹·⁵","rho":0.12},{"lag":57,"series":"|π|¹·⁵","rho":0.05},{"lag":58,"series":"|π|¹·⁵","rho":0.03},{"lag":59,"series":"|π|¹·⁵","rho":0.18},{"lag":60,"series":"|π|¹·⁵","rho":0.03},
{"lag":61,"series":"|π|¹·⁵","rho":0.02},{"lag":62,"series":"|π|¹·⁵","rho":0.12},{"lag":63,"series":"|π|¹·⁵","rho":0.1},{"lag":64,"series":"|π|¹·⁵","rho":0.04},{"lag":65,"series":"|π|¹·⁵","rho":0.05},{"lag":66,"series":"|π|¹·⁵","rho":0.04},{"lag":67,"series":"|π|¹·⁵","rho":0.02},{"lag":68,"series":"|π|¹·⁵","rho":0.12},{"lag":69,"series":"|π|¹·⁵","rho":0.05},{"lag":70,"series":"|π|¹·⁵","rho":0.03},
{"lag":71,"series":"|π|¹·⁵","rho":0.01},{"lag":72,"series":"|π|¹·⁵","rho":0.02},{"lag":73,"series":"|π|¹·⁵","rho":0.03},{"lag":74,"series":"|π|¹·⁵","rho":0.04},{"lag":75,"series":"|π|¹·⁵","rho":0.05},{"lag":76,"series":"|π|¹·⁵","rho":0.04},{"lag":77,"series":"|π|¹·⁵","rho":0.04},{"lag":78,"series":"|π|¹·⁵","rho":0.04},{"lag":79,"series":"|π|¹·⁵","rho":0.04},{"lag":80,"series":"|π|¹·⁵","rho":0.06},
{"lag":81,"series":"|π|¹·⁵","rho":0.05},{"lag":82,"series":"|π|¹·⁵","rho":0.1},{"lag":83,"series":"|π|¹·⁵","rho":0.22},{"lag":84,"series":"|π|¹·⁵","rho":0.06},{"lag":85,"series":"|π|¹·⁵","rho":0.01},{"lag":86,"series":"|π|¹·⁵","rho":0.03},{"lag":87,"series":"|π|¹·⁵","rho":0.08},{"lag":88,"series":"|π|¹·⁵","rho":0.04},{"lag":89,"series":"|π|¹·⁵","rho":0.03},{"lag":90,"series":"|π|¹·⁵","rho":0.035},
{"lag":91,"series":"|π|¹·⁵","rho":0.035},{"lag":92,"series":"|π|¹·⁵","rho":0.04},{"lag":93,"series":"|π|¹·⁵","rho":0.04},{"lag":94,"series":"|π|¹·⁵","rho":0.04},{"lag":95,"series":"|π|¹·⁵","rho":0.045},{"lag":96,"series":"|π|¹·⁵","rho":0.03},{"lag":97,"series":"|π|¹·⁵","rho":0.04},{"lag":98,"series":"|π|¹·⁵","rho":0.04},{"lag":99,"series":"|π|¹·⁵","rho":0.05},{"lag":100,"series":"|π|¹·⁵","rho":0.06},
{"lag":1,"series":"|π|²","rho":0.085},{"lag":2,"series":"|π|²","rho":0.08},{"lag":3,"series":"|π|²","rho":0.19},{"lag":4,"series":"|π|²","rho":0.03},{"lag":5,"series":"|π|²","rho":0.04},{"lag":6,"series":"|π|²","rho":0.05},{"lag":7,"series":"|π|²","rho":0.075},{"lag":8,"series":"|π|²","rho":0.04},{"lag":9,"series":"|π|²","rho":0.09},{"lag":10,"series":"|π|²","rho":0.075},
{"lag":11,"series":"|π|²","rho":0.03},{"lag":12,"series":"|π|²","rho":0.07},{"lag":13,"series":"|π|²","rho":0.05},{"lag":14,"series":"|π|²","rho":0.07},{"lag":15,"series":"|π|²","rho":0.07},{"lag":16,"series":"|π|²","rho":0.02},{"lag":17,"series":"|π|²","rho":0.05},{"lag":18,"series":"|π|²","rho":0.04},{"lag":19,"series":"|π|²","rho":0.015},{"lag":20,"series":"|π|²","rho":0.01},
{"lag":21,"series":"|π|²","rho":0.13},{"lag":22,"series":"|π|²","rho":0.07},{"lag":23,"series":"|π|²","rho":0.08},{"lag":24,"series":"|π|²","rho":0.2},{"lag":25,"series":"|π|²","rho":0.17},{"lag":26,"series":"|π|²","rho":0.01},{"lag":27,"series":"|π|²","rho":0.05},{"lag":28,"series":"|π|²","rho":0.005},{"lag":29,"series":"|π|²","rho":0.005},{"lag":30,"series":"|π|²","rho":0.01},
{"lag":31,"series":"|π|²","rho":0.01},{"lag":32,"series":"|π|²","rho":0.005},{"lag":33,"series":"|π|²","rho":0.005},{"lag":34,"series":"|π|²","rho":0.005},{"lag":35,"series":"|π|²","rho":0.015},{"lag":36,"series":"|π|²","rho":0.01},{"lag":37,"series":"|π|²","rho":0.01},{"lag":38,"series":"|π|²","rho":0.012},{"lag":39,"series":"|π|²","rho":0.01},{"lag":40,"series":"|π|²","rho":0.01},
{"lag":41,"series":"|π|²","rho":0.01},{"lag":42,"series":"|π|²","rho":0.01},{"lag":43,"series":"|π|²","rho":0.005},{"lag":44,"series":"|π|²","rho":0.01},{"lag":45,"series":"|π|²","rho":0.03},{"lag":46,"series":"|π|²","rho":0.005},{"lag":47,"series":"|π|²","rho":0.003},{"lag":48,"series":"|π|²","rho":0.01},{"lag":49,"series":"|π|²","rho":0.0},{"lag":50,"series":"|π|²","rho":0.005},
{"lag":51,"series":"|π|²","rho":0.01},{"lag":52,"series":"|π|²","rho":0.01},{"lag":53,"series":"|π|²","rho":0.005},{"lag":54,"series":"|π|²","rho":0.01},{"lag":55,"series":"|π|²","rho":0.0},{"lag":56,"series":"|π|²","rho":0.07},{"lag":57,"series":"|π|²","rho":0.02},{"lag":58,"series":"|π|²","rho":0.01},{"lag":59,"series":"|π|²","rho":0.17},{"lag":60,"series":"|π|²","rho":0.01},
{"lag":61,"series":"|π|²","rho":0.005},{"lag":62,"series":"|π|²","rho":0.06},{"lag":63,"series":"|π|²","rho":0.05},{"lag":64,"series":"|π|²","rho":0.01},{"lag":65,"series":"|π|²","rho":0.015},{"lag":66,"series":"|π|²","rho":0.01},{"lag":67,"series":"|π|²","rho":0.005},{"lag":68,"series":"|π|²","rho":0.07},{"lag":69,"series":"|π|²","rho":0.02},{"lag":70,"series":"|π|²","rho":0.01},
{"lag":71,"series":"|π|²","rho":0.005},{"lag":72,"series":"|π|²","rho":0.005},{"lag":73,"series":"|π|²","rho":0.01},{"lag":74,"series":"|π|²","rho":0.01},{"lag":75,"series":"|π|²","rho":0.015},{"lag":76,"series":"|π|²","rho":0.01},{"lag":77,"series":"|π|²","rho":0.01},{"lag":78,"series":"|π|²","rho":0.01},{"lag":79,"series":"|π|²","rho":0.01},{"lag":80,"series":"|π|²","rho":0.02},
{"lag":81,"series":"|π|²","rho":0.015},{"lag":82,"series":"|π|²","rho":0.05},{"lag":83,"series":"|π|²","rho":0.15},{"lag":84,"series":"|π|²","rho":0.02},{"lag":85,"series":"|π|²","rho":0.003},{"lag":86,"series":"|π|²","rho":0.01},{"lag":87,"series":"|π|²","rho":0.04},{"lag":88,"series":"|π|²","rho":0.01},{"lag":89,"series":"|π|²","rho":0.005},{"lag":90,"series":"|π|²","rho":0.01},
{"lag":91,"series":"|π|²","rho":0.01},{"lag":92,"series":"|π|²","rho":0.01},{"lag":93,"series":"|π|²","rho":0.01},{"lag":94,"series":"|π|²","rho":0.012},{"lag":95,"series":"|π|²","rho":0.015},{"lag":96,"series":"|π|²","rho":0.01},{"lag":97,"series":"|π|²","rho":0.015},{"lag":98,"series":"|π|²","rho":0.015},{"lag":99,"series":"|π|²","rho":0.02},{"lag":100,"series":"|π|²","rho":0.025},
{"lag":1,"series":"|π|²·⁵","rho":0.04},{"lag":2,"series":"|π|²·⁵","rho":0.05},{"lag":3,"series":"|π|²·⁵","rho":0.25},{"lag":4,"series":"|π|²·⁵","rho":0.005},{"lag":5,"series":"|π|²·⁵","rho":0.01},{"lag":6,"series":"|π|²·⁵","rho":0.015},{"lag":7,"series":"|π|²·⁵","rho":0.04},{"lag":8,"series":"|π|²·⁵","rho":0.01},{"lag":9,"series":"|π|²·⁵","rho":0.05},{"lag":10,"series":"|π|²·⁵","rho":0.03},
{"lag":11,"series":"|π|²·⁵","rho":0.005},{"lag":12,"series":"|π|²·⁵","rho":0.03},{"lag":13,"series":"|π|²·⁵","rho":0.02},{"lag":14,"series":"|π|²·⁵","rho":0.04},{"lag":15,"series":"|π|²·⁵","rho":0.03},{"lag":16,"series":"|π|²·⁵","rho":0.005},{"lag":17,"series":"|π|²·⁵","rho":0.02},{"lag":18,"series":"|π|²·⁵","rho":0.01},{"lag":19,"series":"|π|²·⁵","rho":0.002},{"lag":20,"series":"|π|²·⁵","rho":0.001},
{"lag":21,"series":"|π|²·⁵","rho":0.1},{"lag":22,"series":"|π|²·⁵","rho":0.03},{"lag":23,"series":"|π|²·⁵","rho":0.04},{"lag":24,"series":"|π|²·⁵","rho":0.26},{"lag":25,"series":"|π|²·⁵","rho":0.15},{"lag":26,"series":"|π|²·⁵","rho":0.005},{"lag":27,"series":"|π|²·⁵","rho":0.02},{"lag":28,"series":"|π|²·⁵","rho":0.0},{"lag":29,"series":"|π|²·⁵","rho":0.0},{"lag":30,"series":"|π|²·⁵","rho":0.001},
{"lag":31,"series":"|π|²·⁵","rho":0.0},{"lag":32,"series":"|π|²·⁵","rho":0.0},{"lag":33,"series":"|π|²·⁵","rho":0.0},{"lag":34,"series":"|π|²·⁵","rho":-0.001},{"lag":35,"series":"|π|²·⁵","rho":0.005},{"lag":36,"series":"|π|²·⁵","rho":0.003},{"lag":37,"series":"|π|²·⁵","rho":0.002},{"lag":38,"series":"|π|²·⁵","rho":0.004},{"lag":39,"series":"|π|²·⁵","rho":0.003},{"lag":40,"series":"|π|²·⁵","rho":0.003},
{"lag":41,"series":"|π|²·⁵","rho":0.002},{"lag":42,"series":"|π|²·⁵","rho":0.002},{"lag":43,"series":"|π|²·⁵","rho":0.0},{"lag":44,"series":"|π|²·⁵","rho":0.003},{"lag":45,"series":"|π|²·⁵","rho":0.01},{"lag":46,"series":"|π|²·⁵","rho":0.0},{"lag":47,"series":"|π|²·⁵","rho":0.0},{"lag":48,"series":"|π|²·⁵","rho":0.003},{"lag":49,"series":"|π|²·⁵","rho":-0.002},{"lag":50,"series":"|π|²·⁵","rho":0.0},
{"lag":51,"series":"|π|²·⁵","rho":0.003},{"lag":52,"series":"|π|²·⁵","rho":0.003},{"lag":53,"series":"|π|²·⁵","rho":0.0},{"lag":54,"series":"|π|²·⁵","rho":0.003},{"lag":55,"series":"|π|²·⁵","rho":-0.002},{"lag":56,"series":"|π|²·⁵","rho":0.05},{"lag":57,"series":"|π|²·⁵","rho":0.005},{"lag":58,"series":"|π|²·⁵","rho":0.0},{"lag":59,"series":"|π|²·⁵","rho":0.17},{"lag":60,"series":"|π|²·⁵","rho":0.0},
{"lag":61,"series":"|π|²·⁵","rho":0.0},{"lag":62,"series":"|π|²·⁵","rho":0.02},{"lag":63,"series":"|π|²·⁵","rho":0.02},{"lag":64,"series":"|π|²·⁵","rho":0.002},{"lag":65,"series":"|π|²·⁵","rho":0.005},{"lag":66,"series":"|π|²·⁵","rho":0.003},{"lag":67,"series":"|π|²·⁵","rho":0.0},{"lag":68,"series":"|π|²·⁵","rho":0.04},{"lag":69,"series":"|π|²·⁵","rho":0.005},{"lag":70,"series":"|π|²·⁵","rho":0.002},
{"lag":71,"series":"|π|²·⁵","rho":0.0},{"lag":72,"series":"|π|²·⁵","rho":0.0},{"lag":73,"series":"|π|²·⁵","rho":0.002},{"lag":74,"series":"|π|²·⁵","rho":0.003},{"lag":75,"series":"|π|²·⁵","rho":0.005},{"lag":76,"series":"|π|²·⁵","rho":0.003},{"lag":77,"series":"|π|²·⁵","rho":0.003},{"lag":78,"series":"|π|²·⁵","rho":0.003},{"lag":79,"series":"|π|²·⁵","rho":0.003},{"lag":80,"series":"|π|²·⁵","rho":0.01},
{"lag":81,"series":"|π|²·⁵","rho":0.005},{"lag":82,"series":"|π|²·⁵","rho":0.03},{"lag":83,"series":"|π|²·⁵","rho":0.13},{"lag":84,"series":"|π|²·⁵","rho":0.005},{"lag":85,"series":"|π|²·⁵","rho":-0.002},{"lag":86,"series":"|π|²·⁵","rho":0.002},{"lag":87,"series":"|π|²·⁵","rho":0.02},{"lag":88,"series":"|π|²·⁵","rho":0.003},{"lag":89,"series":"|π|²·⁵","rho":0.002},{"lag":90,"series":"|π|²·⁵","rho":0.003},
{"lag":91,"series":"|π|²·⁵","rho":0.003},{"lag":92,"series":"|π|²·⁵","rho":0.003},{"lag":93,"series":"|π|²·⁵","rho":0.003},{"lag":94,"series":"|π|²·⁵","rho":0.004},{"lag":95,"series":"|π|²·⁵","rho":0.005},{"lag":96,"series":"|π|²·⁵","rho":0.003},{"lag":97,"series":"|π|²·⁵","rho":0.005},{"lag":98,"series":"|π|²·⁵","rho":0.005},{"lag":99,"series":"|π|²·⁵","rho":0.008},{"lag":100,"series":"|π|²·⁵","rho":0.01}
]
},
"vconcat": [
{
 "title": {"text": ["Autocorrelation of |π|ᵈ from high to low", "Germany"]},
 "width": 571, "height": 246,
 "layer": [
  {
   "data": {"name": "de"},
   "mark": {"type": "line", "strokeWidth": 1, "clip": true},
   "encoding": {
    "x": {"field": "lag", "type": "quantitative", "scale": {"domain": [0, 100], "nice": false, "zero": false},
      "axis": {"orient": "bottom", "title": "Lag length", "values": [0,5,10,15,20,25,30,35,40,45,50,55,60,65,70,75,80,85,90,95,100], "labelExpr": "datum.value % 10 === 0 ? datum.label : ''", "tickSize": {"condition": {"test": "datum.value % 10 === 0", "value": -6}, "value": -3}, "labelPadding": 3, "titlePadding": 4}},
    "y": {"field": "rho", "type": "quantitative", "scale": {"domain": [-0.2, 0.4], "nice": false, "zero": false},
      "axis": {"orient": "left", "title": "ρ", "titleFont": "DejaVu Sans", "titleFontStyle": "italic", "values": [-0.2,-0.15,-0.1,-0.05,0,0.05,0.1,0.15,0.2,0.25,0.3,0.35,0.4], "labelExpr": "round(datum.value*20) % 2 === 0 ? (abs(datum.value) < 1e-9 ? '−0.0' : format(datum.value, '.1f')) : ''", "tickSize": {"condition": {"test": "round(datum.value*20) % 2 === 0", "value": -6}, "value": -3}, "labelAngle": 270, "labelAlign": "center", "labelBaseline": "bottom", "labelPadding": 9, "titlePadding": 14}},
    "color": {"field": "series", "type": "nominal", "scale": {"domain": ["|π|⁰·⁵","|π|⁰·⁷⁵","|π|¹","|π|¹·⁵","|π|²","|π|²·⁵","CI +","CI −"], "range": ["#000000","#222222","#777777","#111111","#888888","#111111","#000000","#333333"]}},
    "strokeDash": {"field": "series", "type": "nominal", "scale": {"domain": ["|π|⁰·⁵","|π|⁰·⁷⁵","|π|¹","|π|¹·⁵","|π|²","|π|²·⁵","CI +","CI −"], "range": [[1,0],[12,7],[1,4],[6,4],[1,2],[1,3,10,3,1,3,1,3],[1,0],[13,12]]}}
   }
  },
  {
   "data": {"name": "deci"},
   "mark": {"type": "line", "strokeWidth": 1, "clip": true},
   "encoding": {
    "x": {"field": "lag", "type": "quantitative", "scale": {"domain": [0, 100], "nice": false, "zero": false},
      "axis": {"orient": "top", "title": null, "labels": false, "values": [0,5,10,15,20,25,30,35,40,45,50,55,60,65,70,75,80,85,90,95,100], "tickSize": {"condition": {"test": "datum.value % 10 === 0", "value": -6}, "value": -3}}},
    "y": {"field": "rho", "type": "quantitative", "scale": {"domain": [-0.2, 0.4], "nice": false, "zero": false},
      "axis": {"orient": "right", "title": null, "labels": false, "values": [-0.2,-0.15,-0.1,-0.05,0,0.05,0.1,0.15,0.2,0.25,0.3,0.35,0.4], "tickSize": {"condition": {"test": "round(datum.value*20) % 2 === 0", "value": -6}, "value": -3}}},
    "color": {"field": "series", "type": "nominal", "scale": {"domain": ["|π|⁰·⁵","|π|⁰·⁷⁵","|π|¹","|π|¹·⁵","|π|²","|π|²·⁵","CI +","CI −"], "range": ["#000000","#222222","#777777","#111111","#888888","#111111","#000000","#333333"]}},
    "strokeDash": {"field": "series", "type": "nominal", "scale": {"domain": ["|π|⁰·⁵","|π|⁰·⁷⁵","|π|¹","|π|¹·⁵","|π|²","|π|²·⁵","CI +","CI −"], "range": [[1,0],[12,7],[1,4],[6,4],[1,2],[1,3,10,3,1,3,1,3],[1,0],[13,12]]}}
   }
  }
 ]
},
{
 "title": {"text": ["Autocorrelation of |π|ᵈ from high to low", "The Netherlands"]},
 "width": 571, "height": 246,
 "layer": [
  {
   "data": {"name": "nl"},
   "mark": {"type": "line", "strokeWidth": 1, "clip": true},
   "encoding": {
    "x": {"field": "lag", "type": "quantitative", "scale": {"domain": [0, 100], "nice": false, "zero": false},
      "axis": {"orient": "bottom", "title": "Lag length", "values": [0,5,10,15,20,25,30,35,40,45,50,55,60,65,70,75,80,85,90,95,100], "labelExpr": "datum.value % 10 === 0 ? datum.label : ''", "tickSize": {"condition": {"test": "datum.value % 10 === 0", "value": -6}, "value": -3}, "labelPadding": 3, "titlePadding": 4}},
    "y": {"field": "rho", "type": "quantitative", "scale": {"domain": [-0.1, 0.5], "nice": false, "zero": false},
      "axis": {"orient": "left", "title": "ρ", "titleFont": "DejaVu Sans", "titleFontStyle": "italic", "values": [-0.1,-0.05,0,0.05,0.1,0.15,0.2,0.25,0.3,0.35,0.4,0.45,0.5], "labelExpr": "round(datum.value*20) % 2 === 0 ? format(datum.value, '.1f') : ''", "tickSize": {"condition": {"test": "round(datum.value*20) % 2 === 0", "value": -6}, "value": -3}, "labelAngle": 270, "labelAlign": "center", "labelBaseline": "bottom", "labelPadding": 9, "titlePadding": 14}},
    "color": {"field": "series", "type": "nominal", "scale": {"domain": ["|π|⁰·⁵","|π|⁰·⁷⁵","|π|¹","|π|¹·⁵","|π|²","|π|²·⁵","CI +","CI −"], "range": ["#000000","#222222","#777777","#111111","#888888","#111111","#000000","#333333"]}},
    "strokeDash": {"field": "series", "type": "nominal", "scale": {"domain": ["|π|⁰·⁵","|π|⁰·⁷⁵","|π|¹","|π|¹·⁵","|π|²","|π|²·⁵","CI +","CI −"], "range": [[1,0],[12,7],[1,4],[6,4],[1,2],[1,3,10,3,1,3,1,3],[1,0],[13,12]]}}
   }
  },
  {
   "data": {"name": "nlci"},
   "mark": {"type": "line", "strokeWidth": 1, "clip": true},
   "encoding": {
    "x": {"field": "lag", "type": "quantitative", "scale": {"domain": [0, 100], "nice": false, "zero": false},
      "axis": {"orient": "top", "title": null, "labels": false, "values": [0,5,10,15,20,25,30,35,40,45,50,55,60,65,70,75,80,85,90,95,100], "tickSize": {"condition": {"test": "datum.value % 10 === 0", "value": -6}, "value": -3}}},
    "y": {"field": "rho", "type": "quantitative", "scale": {"domain": [-0.1, 0.5], "nice": false, "zero": false},
      "axis": {"orient": "right", "title": null, "labels": false, "values": [-0.1,-0.05,0,0.05,0.1,0.15,0.2,0.25,0.3,0.35,0.4,0.45,0.5], "tickSize": {"condition": {"test": "round(datum.value*20) % 2 === 0", "value": -6}, "value": -3}}},
    "color": {"field": "series", "type": "nominal", "scale": {"domain": ["|π|⁰·⁵","|π|⁰·⁷⁵","|π|¹","|π|¹·⁵","|π|²","|π|²·⁵","CI +","CI −"], "range": ["#000000","#222222","#777777","#111111","#888888","#111111","#000000","#333333"]}},
    "strokeDash": {"field": "series", "type": "nominal", "scale": {"domain": ["|π|⁰·⁵","|π|⁰·⁷⁵","|π|¹","|π|¹·⁵","|π|²","|π|²·⁵","CI +","CI −"], "range": [[1,0],[12,7],[1,4],[6,4],[1,2],[1,3,10,3,1,3,1,3],[1,0],[13,12]]}}
   }
  }
 ]
}
]
}
